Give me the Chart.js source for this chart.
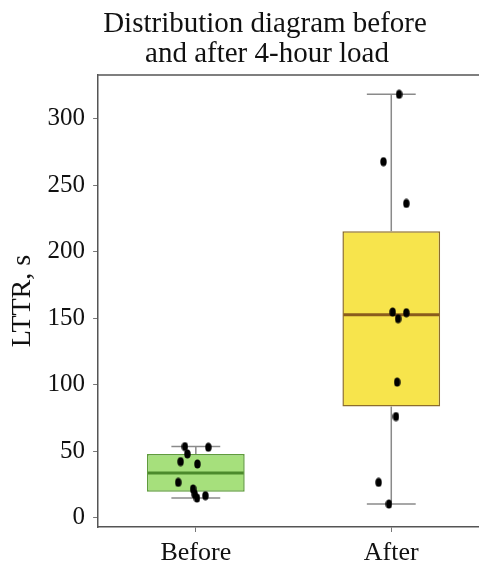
<!DOCTYPE html>
<html>
<head>
<meta charset="utf-8">
<script src="https://cdn.jsdelivr.net/npm/chart.js@4.4.1/dist/chart.umd.min.js"></script>
<style>
  html, body { margin: 0; padding: 0; background: #fff; overflow: hidden; }
  #wrap { width: 495px; height: 564px; }
</style>
</head>
<body>
<div id="wrap"><canvas id="chart" width="495" height="564"></canvas></div>
<script>
// data
const titleLines = ['Distribution diagram before', 'and after 4-hour load'];
const categories = ['Before', 'After'];
const q1 = [19.6, 83.6];
const q3 = [48, 215.5];
const medians = [33.7, 152.7];
const whiskerLow = [14.8, 10.3];
const whiskerHigh = [53.5, 318.5];
const yTicks = [0, 50, 100, 150, 200, 250, 300];

// individual observations (jitter = horizontal offset inside the category)
const beforeValues = [53.5, 53, 48, 42.2, 40.4, 26.6, 21.6, 17.8, 14.8, 16.6];
const beforeJitter = [-0.056, 0.064, -0.043, -0.078, 0.008, -0.09, -0.014, -0.006, 0.006, 0.049];
const afterValues = [318.5, 267.8, 236.4, 154.7, 149.7, 154.2, 102, 76.1, 26.6, 10.3];
const afterJitter = [0.04, -0.04, 0.077, 0.007, 0.035, 0.077, 0.03, 0.024, -0.065, -0.012];

const boxFill = ['#a6e07c', '#f7e44c'];
const boxEdge = ['#5f9c3c', '#8c6d2c'];
const medianColor = ['#4c8a2c', '#8a5c1c'];
const FONT = "'Liberation Serif', 'Times New Roman', serif";

// ellipse marker (the points in the source are slightly taller than wide)
function makeDot() {
    const c = document.createElement('canvas');
    c.width = 7; c.height = 10;
    const g = c.getContext('2d');
    g.fillStyle = '#000';
    g.beginPath();
    g.ellipse(3.5, 5, 3.2, 4.6, 0, 0, Math.PI * 2);
    g.fill();
    return c;
}
const dot = makeDot();

const points = [];
beforeValues.forEach((v, i) => points.push({ x: 0 + beforeJitter[i], y: v }));
afterValues.forEach((v, i) => points.push({ x: 1 + afterJitter[i], y: v }));

// whiskers + median lines, drawn right after the boxes
const boxExtras = {
    id: 'boxExtras',
    afterDatasetDraw(chart, args) {
        if (args.index !== 1) return;
        const { ctx } = chart;
        const y = chart.scales.y, xj = chart.scales.xj;
        const meta = chart.getDatasetMeta(1);
        categories.forEach((c, i) => {
            const cx = xj.getPixelForValue(i);
            const capL = xj.getPixelForValue(i - 0.125), capR = xj.getPixelForValue(i + 0.125);
            const yq1 = y.getPixelForValue(q1[i]), yq3 = y.getPixelForValue(q3[i]);
            const ylo = y.getPixelForValue(whiskerLow[i]), yhi = y.getPixelForValue(whiskerHigh[i]);
            ctx.save();
            ctx.strokeStyle = '#8a8a8a';
            ctx.lineWidth = 1.5;
            ctx.beginPath();
            ctx.moveTo(cx, yq3); ctx.lineTo(cx, yhi);
            ctx.moveTo(cx, yq1); ctx.lineTo(cx, ylo);
            ctx.moveTo(capL, yhi); ctx.lineTo(capR, yhi);
            ctx.moveTo(capL, ylo); ctx.lineTo(capR, ylo);
            ctx.stroke();
            // median
            const bar = meta.data[i];
            const half = bar.width / 2;
            const ym = y.getPixelForValue(medians[i]);
            ctx.strokeStyle = medianColor[i];
            ctx.lineWidth = 3;
            ctx.beginPath();
            ctx.moveTo(bar.x - half + 1, ym); ctx.lineTo(bar.x + half - 1, ym);
            ctx.stroke();
            ctx.restore();
        });
    }
};

// title and top spine
const frame = {
    id: 'frame',
    afterDraw(chart) {
        const { ctx, chartArea } = chart;
        ctx.save();
        ctx.strokeStyle = '#555';
        ctx.lineWidth = 1.5;
        ctx.beginPath();
        ctx.moveTo(chartArea.left, chartArea.top);
        ctx.lineTo(chartArea.right, chartArea.top);
        ctx.stroke();
        ctx.fillStyle = '#111';
        ctx.font = '29px ' + FONT;
        ctx.textAlign = 'center';
        ctx.textBaseline = 'alphabetic';
        ctx.fillText(titleLines[0], 265, 32);
        ctx.fillText(titleLines[1], 267, 62);
        ctx.restore();
    }
};

new Chart(document.getElementById('chart'), {
    data: {
        labels: categories,
        datasets: [
            {
                type: 'scatter',
                data: points,
                xAxisID: 'xj',
                yAxisID: 'y',
                pointStyle: dot,
                pointRadius: 5,
                order: 0
            },
            {
                type: 'bar',
                data: categories.map((c, i) => [q1[i], q3[i]]),
                xAxisID: 'x',
                yAxisID: 'y',
                backgroundColor: boxFill,
                borderColor: boxEdge,
                borderWidth: 1.5,
                borderSkipped: false,
                grouped: false,
                barPercentage: 0.5,
                categoryPercentage: 1,
                order: 1
            }
        ]
    },
    options: {
        responsive: false,
        animation: false,
        layout: { padding: { top: 75, right: 3, left: 6, bottom: -10 } },
        plugins: {
            legend: { display: false },
            tooltip: { enabled: false },
            title: { display: false }
        },
        scales: {
            x: {
                type: 'category',
                offset: true,
                grid: { display: true, offset: false, drawOnChartArea: false, tickLength: 5, color: '#777' },
                border: { display: true, color: '#555', width: 1.5 },
                ticks: { color: '#111', font: { family: FONT, size: 26, lineHeight: 1 }, padding: 8 }
            },
            xj: {
                type: 'linear',
                display: false,
                min: -0.5,
                max: 1.5
            },
            y: {
                type: 'linear',
                min: -7,
                max: 333,
                afterBuildTicks(scale) { scale.ticks = yTicks.map(v => ({ value: v })); },
                grid: { display: true, drawOnChartArea: false, tickLength: 5, color: '#777' },
                border: { display: true, color: '#555', width: 1.5 },
                ticks: { color: '#111', font: { family: FONT, size: 25 }, padding: 8 },
                title: {
                    display: true,
                    text: 'LTTR, s',
                    color: '#111',
                    font: { family: FONT, size: 28 },
                    padding: { top: 0, bottom: 0 }
                }
            }
        }
    },
    plugins: [boxExtras, frame]
});
</script>
</body>
</html>
